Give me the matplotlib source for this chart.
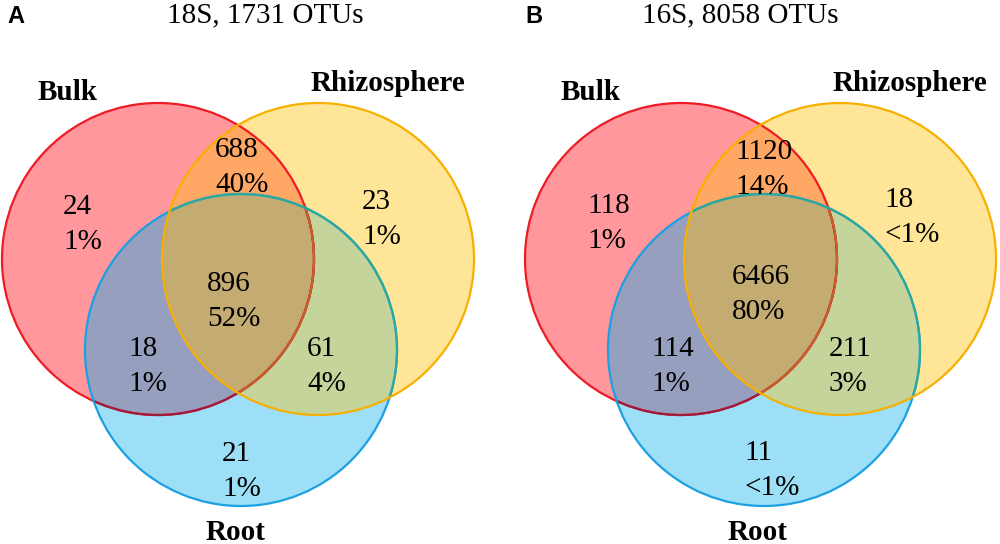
import numpy as np
import matplotlib
matplotlib.use("Agg")
import matplotlib.pyplot as plt
from matplotlib.patches import Circle, Polygon

# ---- data -------------------------------------------------------------
panel_letters = ["A", "B"]
panel_titles = ["18S, 1731 OTUs", "16S, 8058 OTUs"]
set_names = ["Bulk", "Rhizosphere", "Root"]

# region order: bulk only, rhizo only, root only, bulk&rhizo, bulk&root, rhizo&root, all
counts_18s = ["24", "23", "21", "688", "18", "61", "896"]
pcts_18s = ["1%", "1%", "1%", "40%", "1%", "4%", "52%"]
counts_16s = ["118", "18", "11", "1120", "114", "211", "6466"]
pcts_16s = ["1%", "<1%", "<1%", "14%", "1%", "3%", "80%"]

# ---- layout (pixel coords, y down) -----------------------------------
R = 156
circle_centers = [
    [(158, 259), (318, 259), (241, 350)],
    [(681, 259), (840, 259), (764, 350)],
]
label_anchor = [
    [(63, 214), (362, 209), (222, 461), (215, 157), (128, 356), (307, 356), (207, 291)],
    [(587, 213), (884, 207), (744, 460), (735, 159), (651, 356), (829, 356), (732, 284)],
]
name_pos = [
    [(68, 100), (388, 91), (236, 540)],
    [(591, 100), (910, 91), (758, 540)],
]
title_pos = [(265, 22), (740, 22)]
letter_pos = [(7, 23), (525, 23)]

fill_single = ["#FF979C", "#FFE597", "#9DDFF7"]
fill_bulk_rhizo = "#FFA764"
fill_bulk_root = "#979FBE"
fill_rhizo_root = "#C4D49B"
fill_all = "#C3AB72"
edge_cols = ["#EE1C25", "#F7B000", "#1BA1E2"]

SERIF = ["Liberation Serif", "DejaVu Serif"]
FS = 21

fig = plt.figure(figsize=(10, 5.44), dpi=100)
ax = fig.add_axes([0, 0, 1, 1])
ax.set_xlim(0, 1000)
ax.set_ylim(544, 0)
ax.axis("off")


def circ(c, **kw):
    return Circle(c, R, transform=ax.transData, **kw)


def lens(c1, c2, n=720):
    t = np.linspace(0, 2 * np.pi, n, endpoint=False)
    pts = []
    for a, b in [(c1, c2), (c2, c1)]:
        p = np.column_stack([a[0] + R * np.cos(t), a[1] + R * np.sin(t)])
        inside = np.hypot(p[:, 0] - b[0], p[:, 1] - b[1]) <= R
        pts.append(p[inside])
    pts = np.vstack(pts)
    cx, cy = pts.mean(axis=0)
    order = np.argsort(np.arctan2(pts[:, 1] - cy, pts[:, 0] - cx))
    return Polygon(pts[order], closed=True, transform=ax.transData)


def add_clipped(patch, clip):
    ax.add_patch(patch)
    patch.set_clip_path(clip)


for k in range(2):
    cb, crh, cro = circle_centers[k]

    # fills
    for c, col in zip(circle_centers[k], fill_single):
        ax.add_patch(circ(c, facecolor=col, edgecolor="none"))
    add_clipped(circ(cb, facecolor=fill_bulk_rhizo, edgecolor="none"), circ(crh))
    add_clipped(circ(cb, facecolor=fill_bulk_root, edgecolor="none"), circ(cro))
    add_clipped(circ(crh, facecolor=fill_rhizo_root, edgecolor="none"), circ(cro))
    add_clipped(circ(cb, facecolor=fill_all, edgecolor="none"), lens(crh, cro))

    # outlines
    lw = 1.6
    ax.add_patch(circ(cb, fill=False, edgecolor=edge_cols[0], lw=lw))
    add_clipped(circ(cb, fill=False, edgecolor="#9E1C3E", lw=lw), circ(cro))
    add_clipped(circ(cb, fill=False, edgecolor="#C8602A", lw=lw), lens(crh, cro))
    ax.add_patch(circ(cro, fill=False, edgecolor=edge_cols[2], lw=lw))
    add_clipped(circ(cro, fill=False, edgecolor="#2EA89A", lw=lw), circ(crh))
    ax.add_patch(circ(crh, fill=False, edgecolor=edge_cols[1], lw=lw))

    # region labels
    counts = counts_18s if k == 0 else counts_16s
    pcts = pcts_18s if k == 0 else pcts_16s
    for (x, y), n, p in zip(label_anchor[k], counts, pcts):
        ax.text(x, y, n, ha="left", va="baseline", fontsize=FS, family=SERIF)
        ax.text(x, y + 35, p, ha="left", va="baseline", fontsize=FS, family=SERIF)

    # set names
    for (x, y), name in zip(name_pos[k], set_names):
        ax.text(x, y, name, ha="center", va="baseline", fontsize=FS,
                family=SERIF, fontweight="bold")

    ax.text(*title_pos[k], panel_titles[k], ha="center", va="baseline",
            fontsize=FS, family=SERIF)
    ax.text(*letter_pos[k], panel_letters[k], ha="left", va="baseline",
            fontsize=17, family="Liberation Sans", fontweight="bold")

fig.savefig("out.png", dpi=100)
